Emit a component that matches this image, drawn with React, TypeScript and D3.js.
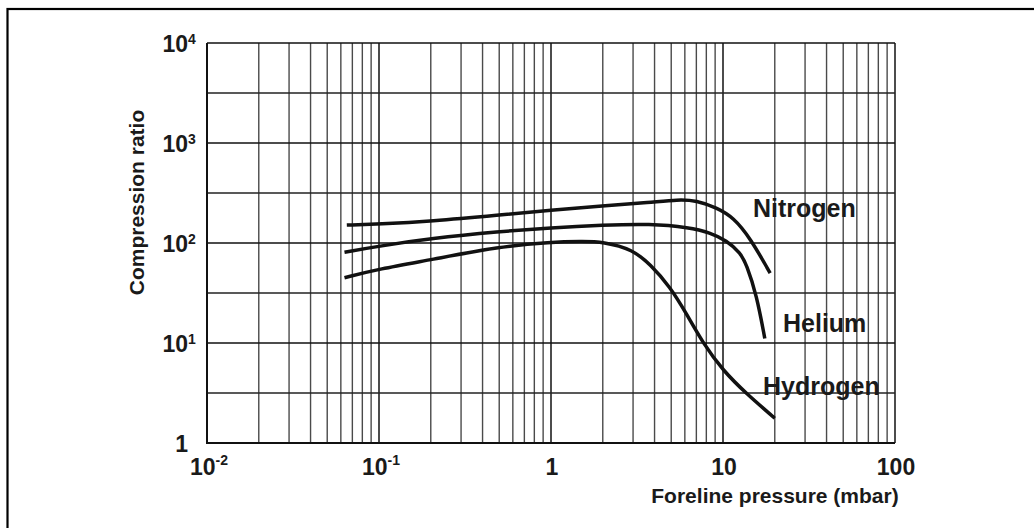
import React from "react";
import * as d3 from "d3";

const W = 1034;
const H = 528;

// Data (pressure in mbar, compression ratio)
const nitrogenP = [0.065, 0.1, 0.2, 0.5, 1, 2, 3.77, 5.5, 7, 9.2, 11.5, 14.4, 18.8];
const nitrogenV = [151, 155, 165, 190, 213, 236, 255, 272, 266, 225, 180, 112, 50];

const heliumP = [0.063, 0.1, 0.2, 0.5, 1, 2, 3.77, 6.4, 8.4, 10.5, 12.6, 13.7, 15.7, 17.5];
const heliumV = [81, 93, 111, 130, 142, 151, 156, 143, 127, 106, 80, 61, 30, 11.1];

const hydrogenP = [0.063, 0.1, 0.2, 0.5, 1, 1.5, 2.01, 3.0, 3.77, 4.9, 6.15, 7.7, 10.0, 13.7, 20];
const hydrogenV = [45, 55, 68, 92, 102, 104, 103, 86, 61, 37, 19.5, 9.8, 5.3, 3.1, 1.77];

const xMajorTicks = [0.01, 0.1, 1, 10, 100];
const xTickBase = ["10", "10", "1", "10", "100"];
const xTickExp = ["-2", "-1", "", "", ""];
const xMinorMultipliers = [2, 3, 4, 5, 6, 7, 8, 9];

const yMajorTicks = [1, 10, 100, 1000, 10000];
const yTickBase = ["1", "10", "10", "10", "10"];
const yTickExp = ["", "1", "2", "3", "4"];
const yHalfTicks = [3.162, 31.62, 316.2, 3162];

const seriesNames = ["Nitrogen", "Helium", "Hydrogen"];
const labelPos = [
  { x: 753, y: 216.5 },
  { x: 783, y: 331.5 },
  { x: 763, y: 395 },
];

const FONT = "'Liberation Sans', Arial, Helvetica, sans-serif";

export default function App() {
  const x = d3.scaleLog().domain([0.01, 100]).range([207, 895]);
  const y = d3.scaleLog().domain([1, 10000]).range([443, 43]);

  const minorX: number[] = [];
  for (let i = 0; i < xMajorTicks.length - 1; i++) {
    for (const m of xMinorMultipliers) minorX.push(xMajorTicks[i] * m);
  }

  const series = [
    nitrogenP.map((p, i) => [p, nitrogenV[i]] as [number, number]),
    heliumP.map((p, i) => [p, heliumV[i]] as [number, number]),
    hydrogenP.map((p, i) => [p, hydrogenV[i]] as [number, number]),
  ];

  const line = d3
    .line<[number, number]>()
    .x((d) => x(d[0]))
    .y((d) => y(d[1]))
    .curve(d3.curveBasis);

  const x0 = x(0.01);
  const x1 = x(100);
  const y0 = y(1);
  const y1 = y(10000);

  return (
    <svg
      width={W}
      height={H}
      viewBox={`0 0 ${W} ${H}`}
      style={{ position: "absolute", left: 0, top: 0, background: "#fff" }}
      fontFamily={FONT}
      fontWeight="bold"
    >
      <rect x={0} y={0} width={W} height={H} fill="#fff" />
      {/* outer frame */}
      <rect x={7.5} y={9} width={W + 20} height={H + 20} fill="none" stroke="#000" strokeWidth={2.2} />

      {/* minor vertical grid */}
      {minorX.map((v, i) => (
        <line key={"mx" + i} x1={x(v)} x2={x(v)} y1={y0} y2={y1} stroke="#4a4a4a" strokeWidth={1.4} />
      ))}
      {/* major vertical grid */}
      {xMajorTicks.map((v, i) => (
        <line key={"Mx" + i} x1={x(v)} x2={x(v)} y1={y0} y2={y1} stroke="#111" strokeWidth={1.5} />
      ))}
      {/* horizontal grid */}
      {yHalfTicks.map((v, i) => (
        <line key={"hy" + i} x1={x0} x2={x1} y1={y(v)} y2={y(v)} stroke="#222" strokeWidth={1.5} />
      ))}
      {yMajorTicks.map((v, i) => (
        <line key={"My" + i} x1={x0} x2={x1} y1={y(v)} y2={y(v)} stroke="#111" strokeWidth={1.5} />
      ))}
      {/* axes */}
      <line x1={x0} x2={x0} y1={y1} y2={y0 + 1} stroke="#111" strokeWidth={2} />
      <line x1={x0} x2={x1} y1={y0} y2={y0} stroke="#111" strokeWidth={2} />

      {/* curves */}
      {series.map((s, i) => (
        <path key={"s" + i} d={line(s) || ""} fill="none" stroke="#111" strokeWidth={3.5} strokeLinecap="butt" />
      ))}

      {/* y tick labels */}
      {yMajorTicks.map((v, i) => (
        <g key={"yl" + i} fill="#1a1a1a">
          <text x={188} y={y(v) + 8.5} fontSize={23} textAnchor="end">
            {yTickBase[i]}
          </text>
          {yTickExp[i] && (
            <text x={188} y={y(v) + 0.5} fontSize={14}>
              {yTickExp[i]}
            </text>
          )}
        </g>
      ))}

      {/* x tick labels */}
      {xMajorTicks.map((v, i) => (
        <text key={"xl" + i} x={x(v) + (xTickExp[i] ? 2 : 1)} y={475} textAnchor="middle" fill="#1a1a1a">
          <tspan fontSize={23}>{xTickBase[i]}</tspan>
          {xTickExp[i] && (
            <tspan fontSize={14} dy={-10}>
              {xTickExp[i]}
            </tspan>
          )}
        </text>
      ))}

      {/* axis titles */}
      <text x={775} y={503} fontSize={21} textAnchor="middle" fill="#1a1a1a">
        Foreline pressure (mbar)
      </text>
      <text
        transform={`translate(143.5, 202.5) rotate(-90)`}
        fontSize={21}
        textAnchor="middle"
        fill="#1a1a1a"
      >
        Compression ratio
      </text>

      {/* series labels */}
      {seriesNames.map((n, i) => (
        <text key={"lab" + i} x={labelPos[i].x} y={labelPos[i].y} fontSize={25} fill="#1a1a1a">
          {n}
        </text>
      ))}
    </svg>
  );
}
